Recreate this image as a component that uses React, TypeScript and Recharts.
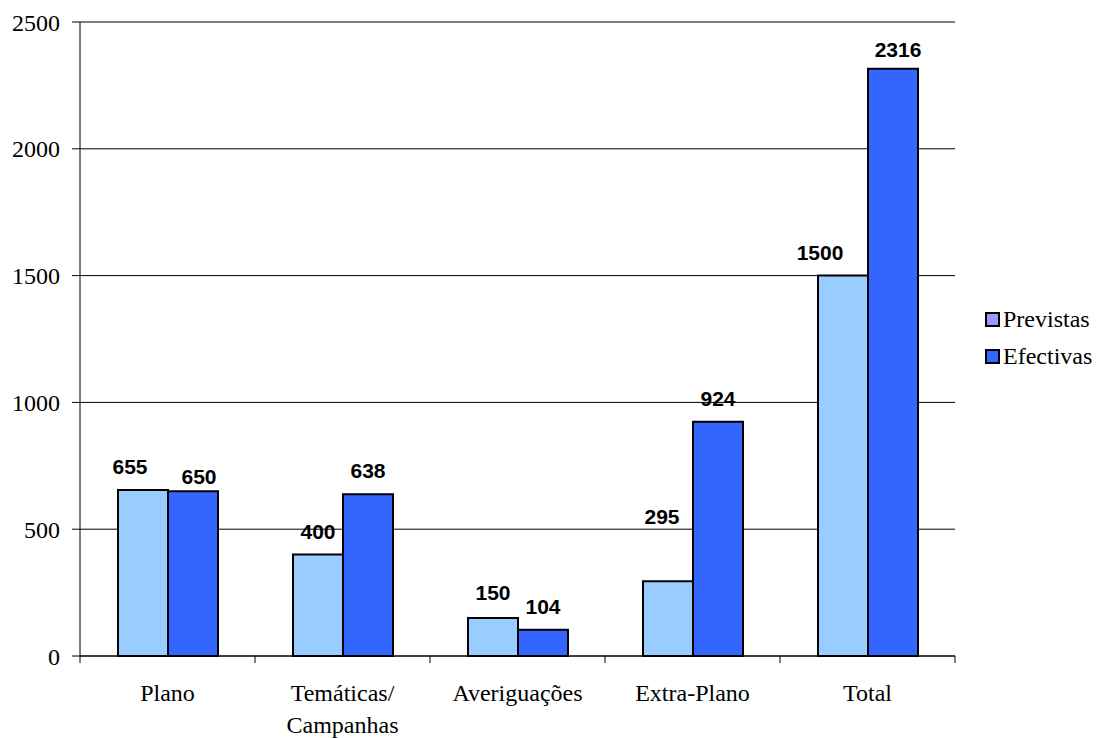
import React from "react";
import { BarChart, Bar, XAxis, YAxis, CartesianGrid, ReferenceLine, LabelList } from "recharts";

const categories = ["Plano", "Temáticas/\nCampanhas", "Averiguações", "Extra-Plano", "Total"];
const previstas = [655, 400, 150, 295, 1500];
const efectivas = [650, 638, 104, 924, 2316];
const yTicks = [0, 500, 1000, 1500, 2000, 2500];

// label nudges (style only) to mimic the manually placed labels of the original
const prevLabelNudge = [[-13, 0], [0, 0], [0, -2], [-6, -41], [-23, 0]];
const efLabelNudge = [[6, 9], [0, 0], [0, 0], [0, 0], [5, 4]];

const data = categories.map((c, i) => ({ name: c, previstas: previstas[i], efectivas: efectivas[i] }));

const LIGHT = "#99CCFF";
const DARK = "#3366FF";
const LEGEND_LIGHT = "#9999FF";
const SERIF = "'Liberation Serif', 'Times New Roman', serif";
const SANS = "'Liberation Sans', Arial, sans-serif";

const makeLabel = (nudge: number[][]) => (props: any) => {
  const { x, y, width, value, index } = props;
  const [dx, dy] = nudge[index] || [0, 0];
  return (
    <text
      x={Number(x) + Number(width) / 2 + dx}
      y={Number(y) - 16 + dy}
      textAnchor="middle"
      fontFamily={SANS}
      fontWeight="bold"
      fontSize={21}
      fill="#000"
    >
      {value}
    </text>
  );
};

const XTick = (props: any) => {
  const { x, y, payload, index } = props;
  const off = payload && payload.offset ? payload.offset : 87.5;
  const lines = String(payload.value).split("\n");
  return (
    <g>
      <line x1={x + off} x2={x + off} y1={y} y2={y + 7} stroke="#000" strokeWidth={1} />
      {index === 0 && <line x1={x - off} x2={x - off} y1={y} y2={y + 7} stroke="#000" strokeWidth={1} />}
      <text x={x} y={y + 45} textAnchor="middle" fontFamily={SERIF} fontSize={24} fill="#000">
        {lines.map((l, i) => (
          <tspan key={i} x={x} dy={i === 0 ? 0 : 32}>
            {l}
          </tspan>
        ))}
      </text>
    </g>
  );
};

const legendItems = [
  { name: "Previstas", color: LEGEND_LIGHT },
  { name: "Efectivas", color: DARK },
];

export default function App() {
  return (
    <div style={{ position: "relative", width: 1096, height: 730 }}>
      <BarChart
        width={1096}
        height={730}
        data={data}
        margin={{ top: 14, right: 149, left: 0, bottom: 0 }}
        barSize={50}
        barGap={0}
      >
        <CartesianGrid vertical={false} stroke="#000" strokeWidth={1} />
        <XAxis
          dataKey="name"
          tickLine={false}
          tickSize={0}
          tickMargin={0}
          height={82}
          axisLine={{ stroke: "#000" }}
          tick={<XTick />}
          interval={0}
        />
        <YAxis
          domain={[0, 2500]}
          ticks={yTicks}
          width={72}
          tickSize={8}
          tickMargin={12}
          axisLine={{ stroke: "#000" }}
          tickLine={{ stroke: "#000" }}
          tick={{ fontFamily: SERIF, fontSize: 24, fill: "#000" }}
          interval={0}
        />
        <YAxis
          yAxisId="r"
          orientation="right"
          domain={[0, 2500]}
          width={0}
          tick={false}
          tickLine={false}
          axisLine={{ stroke: "#808080" }}
        />
        <ReferenceLine y={2500} stroke="#808080" strokeWidth={1} />
        <Bar dataKey="previstas" fill={LIGHT} stroke="#000" strokeWidth={2} isAnimationActive={false}>
          <LabelList dataKey="previstas" content={makeLabel(prevLabelNudge)} />
        </Bar>
        <Bar dataKey="efectivas" fill={DARK} stroke="#000" strokeWidth={2} isAnimationActive={false}>
          <LabelList dataKey="efectivas" content={makeLabel(efLabelNudge)} />
        </Bar>
      </BarChart>
      <div style={{ position: "absolute", left: 977, top: 293 }}>
        {legendItems.map((it) => (
          <div key={it.name} style={{ display: "flex", alignItems: "center", height: 37, whiteSpace: "nowrap" }}>
            <div
              style={{
                width: 11,
                height: 11,
                background: it.color,
                border: "2px solid #000",
                marginRight: 3,
                flexShrink: 0,
              }}
            />
            <span style={{ fontFamily: SERIF, fontSize: 24, color: "#000", lineHeight: "37px" }}>{it.name}</span>
          </div>
        ))}
      </div>
    </div>
  );
}
